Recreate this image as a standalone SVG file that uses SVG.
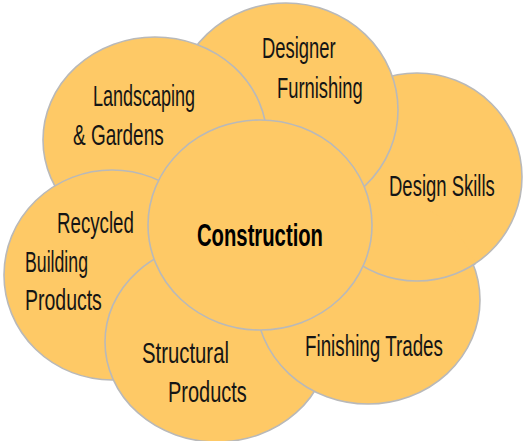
<svg xmlns="http://www.w3.org/2000/svg" xmlns:xlink="http://www.w3.org/1999/xlink" width="523" height="441" viewBox="0 0 523 441">
<style>
.b{fill:#FEC966;stroke:#B9B9B9;stroke-width:1.6}
.t{font-family:"Liberation Sans",Arial,sans-serif;font-size:30px;fill:#151515}
.c{font-family:"Liberation Sans",Arial,sans-serif;font-size:31px;font-weight:bold;fill:#000}
</style>
<defs>
<ellipse id="ellS" cx="417" cy="177" rx="105" ry="104"/>
<clipPath id="clipF"><ellipse cx="368" cy="300" rx="114.5" ry="106.5"/></clipPath>
</defs>
<rect width="523" height="441" fill="#fff"/>
<g id="connectors"></g>
<g id="node-design-skills">
<use xlink:href="#ellS" class="b"/>
<text class="t" transform="translate(389,196) scale(0.63,1)" textLength="168" lengthAdjust="spacingAndGlyphs">Design Skills</text>
</g>
<g id="node-designer-furnishing">
<ellipse class="b" cx="286" cy="110" rx="112" ry="107"/>
<text class="t" transform="translate(262,58) scale(0.63,1)" textLength="117" lengthAdjust="spacingAndGlyphs">Designer</text>
<text class="t" transform="translate(277,98) scale(0.63,1)" textLength="136" lengthAdjust="spacingAndGlyphs">Furnishing</text>
</g>
<g id="node-landscaping">
<ellipse class="b" cx="155" cy="140" rx="112" ry="103"/>
<text class="t" transform="translate(93,106) scale(0.63,1)" textLength="162" lengthAdjust="spacingAndGlyphs">Landscaping</text>
<text class="t" transform="translate(73,145) scale(0.63,1)" textLength="144" lengthAdjust="spacingAndGlyphs">&amp; Gardens</text>
</g>
<g id="node-recycled">
<ellipse class="b" cx="112" cy="275" rx="108" ry="105"/>
<text class="t" transform="translate(57,233) scale(0.63,1)" textLength="122" lengthAdjust="spacingAndGlyphs">Recycled</text>
<text class="t" transform="translate(25,272) scale(0.63,1)" textLength="100" lengthAdjust="spacingAndGlyphs">Building</text>
<text class="t" transform="translate(25,310) scale(0.63,1)" textLength="122" lengthAdjust="spacingAndGlyphs">Products</text>
</g>
<g id="node-structural">
<ellipse class="b" cx="217" cy="342" rx="112" ry="100"/>
<text class="t" transform="translate(142,363) scale(0.63,1)" textLength="138" lengthAdjust="spacingAndGlyphs">Structural</text>
<text class="t" transform="translate(168,402) scale(0.63,1)" textLength="125" lengthAdjust="spacingAndGlyphs">Products</text>
</g>
<g id="node-finishing">
<ellipse class="b" cx="368" cy="300" rx="112" ry="104"/>
<text class="t" transform="translate(305,356) scale(0.63,1)" textLength="219" lengthAdjust="spacingAndGlyphs">Finishing Trades</text>
</g>
<g id="node-design-skills-overlap" clip-path="url(#clipF)">
<use xlink:href="#ellS" class="b"/>
</g>
<g id="node-construction">
<ellipse class="b" cx="260" cy="225" rx="112" ry="105"/>
<text class="c" transform="translate(197,246) scale(0.63,1)" textLength="200" lengthAdjust="spacingAndGlyphs">Construction</text>
</g>
</svg>
